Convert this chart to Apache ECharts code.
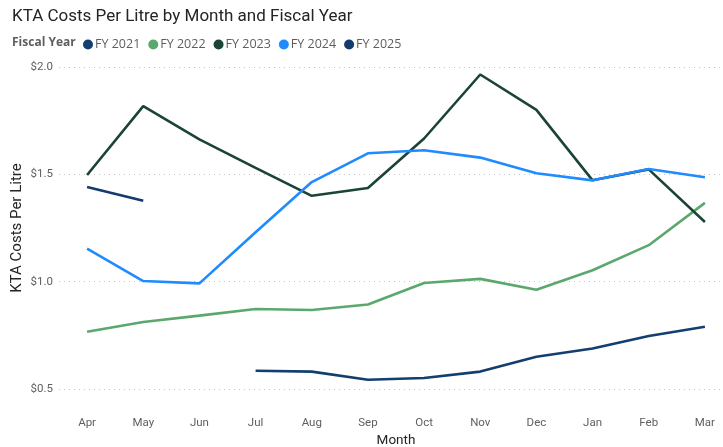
<!DOCTYPE html>
<html>
<head>
<meta charset="utf-8">
<script src="https://cdn.jsdelivr.net/npm/echarts@6/dist/echarts.min.js"></script>
<style>
  html, body { margin: 0; padding: 0; background: #ffffff; overflow: hidden; }
  #chart { width: 723px; height: 447px; }
</style>
</head>
<body>
<div id="chart"></div>
<script>
// Months of the fiscal year (April to March)
const months = ['Apr', 'May', 'Jun', 'Jul', 'Aug', 'Sep', 'Oct', 'Nov', 'Dec', 'Jan', 'Feb', 'Mar'];

// Cost per litre by fiscal year (null = no data for that month)
const fy2021 = [null, null, null, 0.585, 0.581, 0.543, 0.551, 0.581, 0.650, 0.689, 0.747, 0.790];
const fy2022 = [0.767, 0.812, 0.842, 0.873, 0.868, 0.894, 0.994, 1.013, 0.962, 1.053, 1.170, 1.367];
const fy2023 = [1.497, 1.818, 1.663, 1.530, 1.400, 1.436, 1.667, 1.965, 1.800, 1.472, 1.523, 1.278];
const fy2024 = [1.154, 1.003, 0.992, 1.230, 1.464, 1.598, 1.612, 1.578, 1.505, 1.472, 1.525, 1.486];
const fy2025 = [1.441, 1.377, null, null, null, null, null, null, null, null, null, null];

const seriesNames = ['FY 2021', 'FY 2022', 'FY 2023', 'FY 2024', 'FY 2025'];
const seriesData = [fy2021, fy2022, fy2023, fy2024, fy2025];
const seriesColors = ['#123e70', '#5ba86e', '#1b4436', '#1f8bff', '#143b6e'];

// Y axis tick values
const yMin = 0.5, yMax = 2.0, yStep = 0.5;

const font = 'Roboto, "Open Sans", sans-serif';

const chart = echarts.init(document.getElementById('chart'), null, { renderer: 'canvas' });

chart.setOption({
  animation: false,
  backgroundColor: '#ffffff',
  title: {
    text: 'KTA Costs Per Litre by Month and Fiscal Year',
    left: 7,
    top: 3,
    textStyle: { fontFamily: font, fontSize: 17, fontWeight: 'normal', color: '#252423' }
  },
  graphic: [{
    type: 'text',
    left: 12,
    top: 37,
    style: { text: 'Fiscal Year', font: 'bold 12px "Open Sans", sans-serif', fill: '#605e5c' }
  }],
  legend: {
    left: 78,
    top: 33,
    icon: 'circle',
    itemWidth: 10,
    itemHeight: 10,
    itemGap: 8,
    textStyle: { fontFamily: '"Open Sans", sans-serif', fontSize: 12.5, color: '#605e5c', padding: [0, 0, 0, -3] },
    data: seriesNames
  },
  grid: { left: 59, top: 67, width: 674, height: 322, containLabel: false, outerBoundsMode: 'none' },
  xAxis: {
    type: 'category',
    data: months,
    boundaryGap: true,
    name: 'Month',
    nameLocation: 'middle',
    nameGap: 45,
    nameMoveOverlap: false,
    nameTextStyle: { fontFamily: font, fontSize: 13.5, color: '#252423' },
    axisLine: { show: false },
    axisTick: { show: false },
    axisLabel: { fontFamily: font, fontSize: 11.5, color: '#605e5c', margin: 28 }
  },
  yAxis: {
    type: 'value',
    min: yMin,
    max: yMax,
    interval: yStep,
    name: 'KTA Costs Per Litre',
    nameLocation: 'middle',
    nameGap: 34,
    nameMoveOverlap: false,
    nameTextStyle: { fontFamily: font, fontSize: 15, color: '#252423' },
    axisLine: { show: false },
    axisTick: { show: false },
    axisLabel: {
      fontFamily: font, fontSize: 11.5, color: '#605e5c', margin: 6,
      formatter: v => '$' + v.toFixed(1)
    },
    splitLine: { lineStyle: { color: '#c8c6c4', type: [1, 4], width: 1 } }
  },
  series: seriesNames.map((name, i) => ({
    name,
    type: 'line',
    data: seriesData[i],
    showSymbol: false,
    symbol: 'circle',
    connectNulls: false,
    color: seriesColors[i],
    lineStyle: { width: 2.6, color: seriesColors[i] },
    z: 2 + i
  }))
});
</script>
</body>
</html>
